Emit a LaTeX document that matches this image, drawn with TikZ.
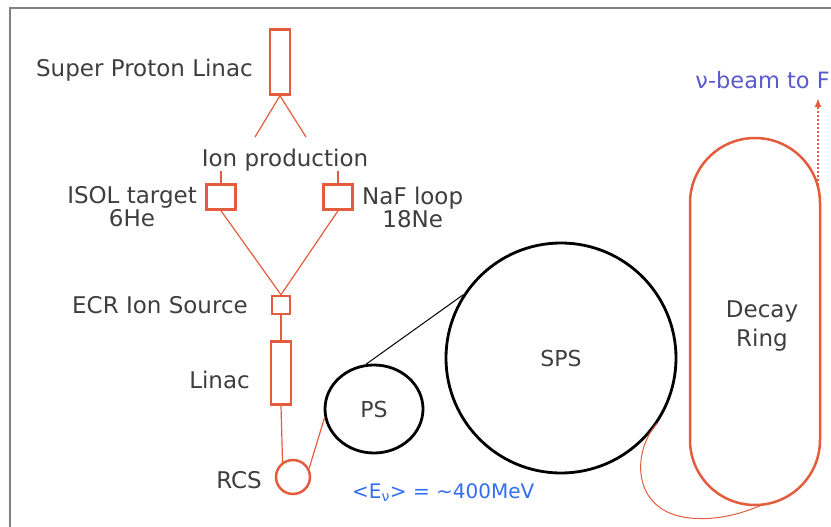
\documentclass[tikz,border=0pt]{standalone}
\usepackage{fontspec}
\setmainfont{DejaVu Sans}
\usetikzlibrary{arrows.meta,shapes.geometric}

\definecolor{ringred}{RGB}{228,92,62}
\definecolor{labelgray}{RGB}{62,62,62}
\definecolor{energyblue}{RGB}{50,110,240}
\definecolor{beamblue}{RGB}{90,90,205}

\tikzset{
  magnet/.style = {draw=ringred, line width=2.5pt, inner sep=0pt},
  ring/.style = {draw=black, line width=2.8pt, inner sep=0pt, text=labelgray,
    font=\fontsize{22}{22}\selectfont},
  tag/.style = {text=labelgray, inner sep=0pt, font=\fontsize{23}{20.5}\selectfont},
  feed/.style = {draw=ringred, line width=1.2pt},
}

\begin{document}
\begin{tikzpicture}[x=1pt,y=-1pt]
  \useasboundingbox (0,0) rectangle (831,527);
  \draw[gray, line width=1.5pt] (10,527) -- (10,8) -- (831,8);

  % injector chain
  \node[magnet, minimum width=20pt, minimum height=65pt] (spl) at (280,62) {};
  \node[tag, anchor=east] (spltext) at (253,70) {Super Proton Linac};

  \coordinate (ionl) at (255,137);
  \coordinate (ionr) at (306,137);
  \draw[feed] (spl.south) -- (ionl);
  \draw[feed] (spl.south) -- (ionr);

  \node[tag] (ion) at (285,160) {Ion production};

  \node[magnet, minimum width=29pt, minimum height=25pt] (isol) at (221,197) {};
  \node[magnet, minimum width=29pt, minimum height=25pt] (naf) at (338,197) {};
  \node[tag, anchor=east, align=center] (isoltext) at (197,207) {ISOL target\\6He};
  \node[tag, anchor=west, align=center] (naftext) at (362,207) {NaF loop\\18Ne};
  \draw[feed] (isol.north) -- (isol.north |- ion.south);
  \draw[feed] (naf.north) -- (naf.north |- ion.south);

  \node[magnet, minimum size=18pt] (ecr) at (281,305) {};
  \node[tag, anchor=east] (ecrtext) at (248,305) {ECR Ion Source};
  \draw[feed] (isol.south) -- (ecr.north);
  \draw[feed] (naf.south) -- (ecr.north);

  \node[magnet, minimum width=20pt, minimum height=63pt] (linac) at (281,373) {};
  \node[tag, anchor=east] (linactext) at (250,380) {Linac};
  \draw[feed] (ecr.south) -- (linac.north);

  \node[magnet, circle, minimum size=34pt] (rcs) at (293,477) {};
  \node[tag, anchor=east] (rcstext) at (262,480) {RCS};
  \draw[feed] (linac.south) -- (rcs.125);

  % synchrotrons
  \node[ring, ellipse, minimum width=98pt, minimum height=88pt] (ps) at (374,409) {PS};
  \node[ring, circle, minimum size=230pt] (sps) at (561,358) {SPS};
  \draw[feed] (rcs.28) -- (ps.190);
  \draw[black, line width=1pt] (ps.100) -- (sps.147);

  % decay ring
  \node[draw=ringred, line width=2.5pt, rounded corners=65pt,
    minimum width=130pt, minimum height=367pt] (decay) at (755,321.5) {};
  \node[tag, align=center] (decaytext) at (762,326) {Decay\\[6pt]Ring};
  \coordinate (ringfoot) at (762,505);
  \draw[feed, line width=1pt] (sps.-34) .. controls (632,450) and (630,512) .. (690,518)
    .. controls (720,521) and (745,512) .. (ringfoot);

  \coordinate (beamfoot) at (818,185);
  \coordinate (beamtip) at (818,98);
  \draw[ringred, line width=2pt, dotted, -{Latex[length=9pt,width=7pt]}] (beamfoot) -- (beamtip);

  \node[text=beamblue, anchor=east, inner sep=0pt, font=\fontsize{22.5}{22}\selectfont]
    (beam) at (830,80) {ν-beam to F};
  \node[text=energyblue, anchor=west, inner sep=0pt, font=\fontsize{20}{20}\selectfont]
    (energy) at (352,493) {<E\textsubscript{ν}> = \textasciitilde400MeV};
\end{tikzpicture}
\end{document}
